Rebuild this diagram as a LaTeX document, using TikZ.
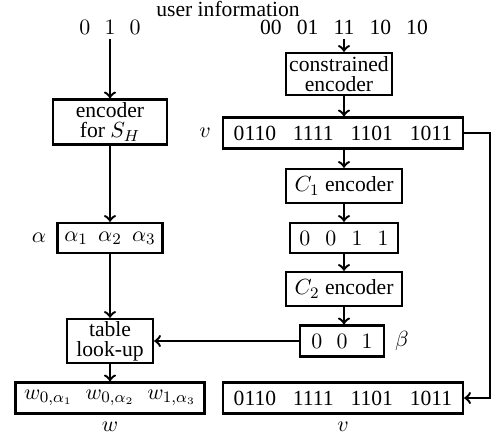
\documentclass[tikz,border=0pt]{standalone}
\usepackage{amsmath}
\usepackage{fontspec}
\setmainfont{Liberation Serif}
\usepackage{tikz}

\tikzset{
  boite/.style={draw, line width=1.2pt, fill=white, inner xsep=1pt, inner ysep=1pt, align=center},
  texte/.style={inner sep=0pt},
  fleche/.style={line width=1.2pt, ->, >=to}
}

\begin{document}
\begin{tikzpicture}[x=0.5pt,y=-0.5pt,font=\fontsize{10.8}{10}\selectfont]
  \useasboundingbox (0,0) rectangle (498,441);

     % Entrees
  \node[texte] (user) at (228,8.5) {user information};
  \node[texte] (bitsH) at (110,27) {$0\hspace{0.66em}1\hspace{0.66em}0$};
  \node[texte] (bitsC) at (344,27.5) {00\hspace{0.7em}01\hspace{0.7em}11\hspace{0.7em}10\hspace{0.7em}10};

     % Colonne de gauche
  \node[boite, minimum width=57pt, minimum height=22.5pt] (encH) at (110,122) {encoder\\for $S_H$};
  \node[boite, minimum width=52.5pt, minimum height=15pt] (alpha) at (110,238) {$\alpha_1\hspace{0.48em}\alpha_2\hspace{0.48em}\alpha_3$};
  \node[boite, minimum width=43pt, minimum height=22pt] (table) at (110,341) {table\\look-up};
  \node[boite, minimum width=94.5pt, minimum height=15.5pt] (w) at (110,398) {$w_{0,\alpha_1}\hspace{0.6em}w_{0,\alpha_2}\hspace{0.6em}w_{1,\alpha_3}$};
  \node[texte] (alab) at (39,238) {$\alpha$};
  \node[texte] (wlab) at (110,427) {$w$};

     % Colonne de droite
  \node[boite, minimum width=53pt, minimum height=21pt] (constr) at (339,74) {constrained\\encoder};
  \node[boite, minimum width=120pt, minimum height=15.5pt] (vtop) at (343,133) {0110\hspace{0.78em}1111\hspace{0.78em}1101\hspace{0.78em}1011};
  \node[boite, minimum width=58pt, minimum height=17pt] (C1) at (344,186) {$C_1$ encoder};
  \node[boite, minimum width=54pt, minimum height=15pt] (c1bits) at (344,238) {$0\hspace{0.7em}0\hspace{0.7em}1\hspace{0.7em}1$};
  \node[boite, minimum width=58pt, minimum height=17pt] (C2) at (344,289) {$C_2$ encoder};
  \node[boite, minimum width=42pt, minimum height=15.5pt] (beta) at (342,341) {$0\hspace{0.66em}0\hspace{0.66em}1$};
  \node[boite, minimum width=120pt, minimum height=15.5pt] (vbot) at (343,398) {0110\hspace{0.78em}1111\hspace{0.78em}1101\hspace{0.78em}1011};
  \node[texte] (vlab) at (205,133) {$v$};
  \node[texte] (blab) at (402,341) {$\beta$};
  \node[texte] (vblab) at (343,427) {$v$};

     % Liaisons
  \draw[fleche] ([yshift=-2.5pt]bitsH.south) -- (encH);
  \draw[fleche] (encH) -- (alpha);
  \draw[fleche] (alpha) -- (table);
  \draw[fleche] (table) -- (w);

  \draw[fleche] ([yshift=-2pt]bitsC.south) -- (bitsC |- constr.north);
  \draw[fleche] (constr.south -| bitsC) -- (vtop.north -| bitsC);
  \draw[fleche] (vtop.south -| C1) -- (C1);
  \draw[fleche] (C1) -- (c1bits);
  \draw[fleche] (c1bits) -- (C2);
  \draw[fleche] (C2) -- (beta.north -| C2);
  \draw[fleche] (beta) -- (table);

     % Retour de v
  \coordinate (coin) at (490,133);
  \draw[fleche] (vtop.east) -- (coin) |- (vbot.east);
\end{tikzpicture}
\end{document}
